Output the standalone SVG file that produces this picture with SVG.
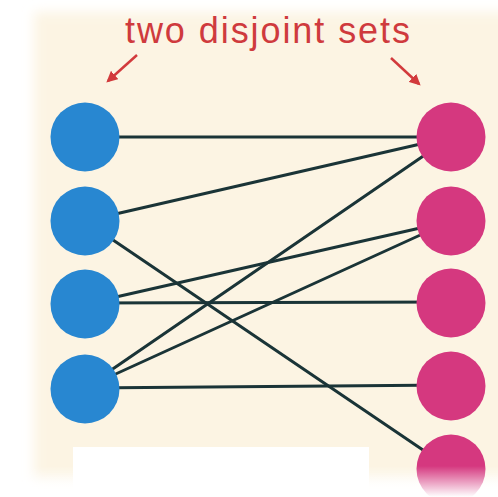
<svg xmlns="http://www.w3.org/2000/svg" width="498" height="497" viewBox="0 0 498 497">
<defs>
<filter id="blur" x="-10%" y="-10%" width="120%" height="120%"><feGaussianBlur stdDeviation="6"/></filter>
<linearGradient id="fade" x1="0" y1="0" x2="0" y2="1">
<stop offset="0" stop-color="#ffffff" stop-opacity="0"/>
<stop offset="1" stop-color="#ffffff" stop-opacity="1"/>
</linearGradient>
<marker id="ah" viewBox="0 0 10 10" refX="8" refY="5" markerWidth="4.5" markerHeight="4.5" orient="auto" markerUnits="strokeWidth">
<path d="M0,0 L10,5 L0,10 z" fill="#d23a3c"/>
</marker>
<style>
.edge{stroke:#1a3437;stroke-width:3;fill:none;stroke-linecap:round}
.blue{fill:#2887d1}
.pink{fill:#d5387f}
.arrow{stroke:#d23a3c;stroke-width:2.5;fill:none;marker-end:url(#ah)}
.title{font-family:"Liberation Sans",Arial,sans-serif;font-size:36px;fill:#cf3a3d}
</style>
</defs>
<rect width="498" height="497" fill="#ffffff"/>
<rect x="34" y="12" width="490" height="468" fill="#fcf4e3" filter="url(#blur)"/>
<text class="title" x="125" y="43" textLength="285" lengthAdjust="spacing">two disjoint sets</text>
<line class="arrow" x1="137" y1="55" x2="108" y2="81"/>
<line class="arrow" x1="391" y1="58" x2="419" y2="84"/>
<g id="edges">
<line class="edge" x1="85" y1="137" x2="451" y2="137"/>
<line class="edge" x1="85" y1="221" x2="451" y2="137"/>
<line class="edge" x1="85" y1="221" x2="451" y2="469"/>
<line class="edge" x1="85" y1="304" x2="451" y2="221"/>
<line class="edge" x1="85" y1="303" x2="451" y2="302"/>
<line class="edge" x1="85" y1="388" x2="451" y2="137"/>
<line class="edge" x1="85" y1="388" x2="451" y2="221"/>
<line class="edge" x1="85" y1="388" x2="451" y2="385"/>
</g>
<g id="b1"><circle class="blue" cx="85" cy="137" r="34.5"/></g>
<g id="b2"><circle class="blue" cx="85" cy="221" r="34.5"/></g>
<g id="b3"><circle class="blue" cx="85" cy="304" r="34.5"/></g>
<g id="b4"><circle class="blue" cx="85" cy="389" r="34.5"/></g>
<g id="p1"><circle class="pink" cx="451" cy="137" r="34.5"/></g>
<g id="p2"><circle class="pink" cx="451" cy="221" r="34.5"/></g>
<g id="p3"><circle class="pink" cx="451" cy="303" r="34.5"/></g>
<g id="p4"><circle class="pink" cx="451" cy="386" r="34.5"/></g>
<g id="p5"><circle class="pink" cx="451" cy="469" r="34.5"/></g>
<rect x="0" y="466" width="498" height="31" fill="url(#fade)"/>
<rect x="73" y="447" width="296" height="50" fill="#ffffff"/>
</svg>
